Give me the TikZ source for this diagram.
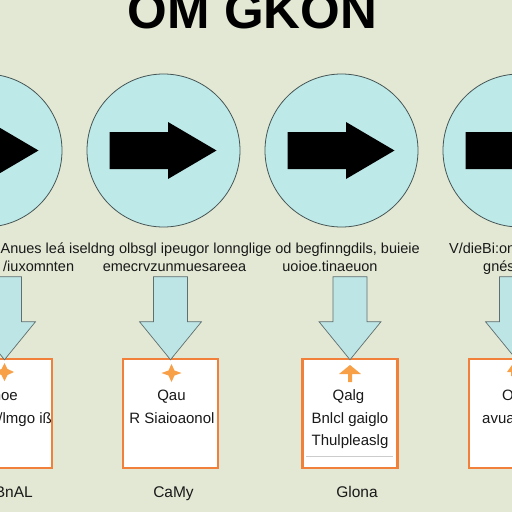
\documentclass[tikz,border=0pt]{standalone}
\usepackage{fontspec}
\setmainfont{Liberation Sans}
\definecolor{bgsage}{RGB}{226,232,211}
\definecolor{circfill}{RGB}{190,233,233}
\definecolor{circline}{RGB}{70,85,85}
\definecolor{downfill}{RGB}{190,229,229}
\definecolor{downline}{RGB}{95,110,110}
\definecolor{boxorange}{RGB}{240,128,58}
\definecolor{markorange}{RGB}{247,160,72}
\definecolor{textdark}{RGB}{25,25,25}

\tikzset{
  stepcircle/.style={circle,draw=circline,line width=0.8pt,fill=circfill,minimum size=153pt,inner sep=0pt},
  cardbox/.style={rectangle,draw=boxorange,line width=2.6pt,fill=white,minimum width=95pt,minimum height=109pt,inner sep=0pt},
  bodytext/.style={font=\fontsize{14.5}{15}\selectfont,text=textdark,inner sep=0pt},
  cardtext/.style={font=\fontsize{15}{16}\selectfont,text=textdark,inner sep=0pt},
  steplabel/.style={font=\fontsize{15.5}{16}\selectfont,text=textdark,inner sep=0pt},
  blockdown/.style={draw=downline,fill=downfill,line width=0.7pt},
}

\begin{document}
\begin{tikzpicture}[x=1pt,y=-1pt]
\fill[bgsage] (0,0) rectangle (512,512);
\useasboundingbox (0,0) rectangle (512,512);

\node[font=\fontsize{51}{51}\selectfont\bfseries,anchor=base,inner sep=0pt] (title) at (252.5,28) {OM GKON};

\foreach \i/\cx/\bx in {1/-14.5/4.5,2/163.5/170.5,3/341.5/350,4/519.5/516.5}{
	\node[stepcircle] (circ\i) at (\cx,150.5) {};
	\begin{scope}[shift={(circ\i.center)}]
	\fill[black] (-54,-18.5) -- (4.5,-18.5) -- (4.5,-28.5) -- (53,0)
		-- (4.5,28.5) -- (4.5,18.5) -- (-54,18.5) -- cycle;
	\end{scope}
	\node[cardbox] (box\i) at (\bx,413.5) {};
	\begin{scope}[shift={(box\i.north)}]
	\draw[blockdown] (-17,-81) -- (17,-81) -- (17,-36) -- (31,-36) -- (0,2)
		-- (-31,-36) -- (-17,-36) -- cycle;
	\end{scope}
}

% markers at the top of the cards
\fill[markorange] (4.5,363) -- (7.5,369) -- (14,372) -- (7.5,375) -- (4.5,381)
	-- (1.5,375) -- (-5,372) -- (1.5,369) -- cycle;
\fill[markorange] (171.5,364) -- (174.5,370.5) -- (181.5,373) -- (174.5,375.5) -- (171.5,382)
	-- (168.5,375.5) -- (161.5,373) -- (168.5,370.5) -- cycle;
\fill[markorange] (350,365) -- (361,374) -- (352,374) -- (352,382) -- (348,382)
	-- (348,374) -- (339,374) -- cycle;
\fill[markorange] (512,365) -- (517,372) -- (513,372) -- (513,376) -- (511,376)
	-- (511,372) -- (507,372) -- cycle;

% text under the circles
\node[bodytext,anchor=base east] (introA) at (420,253) {Anues le\'a iseldng olbsgl ipeugor lonnglige od begfinngdils, buieie};
\node[bodytext,anchor=base west] (introB) at (449,253) {V/dieBi:on};
\node[bodytext,anchor=base west] (subA) at (3,271) {/iuxomnten};
\node[bodytext,anchor=base] (subB) at (174.5,271) {emecrvzunmuesareea};
\node[bodytext,anchor=base] (subC) at (330,271) {uoioe.tinaeuon};
\node[bodytext,anchor=base west] (subD) at (483,271) {gn\'es};

% text in the cards
\node[cardtext,anchor=base east] (cardA1) at (18,400) {Cnoe};
\node[cardtext,anchor=base east] (cardA2) at (52,423) {Vnt /lmgo i\ss};
\node[cardtext,anchor=base] (cardB1) at (171.5,400) {Qau};
\node[cardtext,anchor=base] (cardB2) at (172,423) {R Siaioaonol};
\node[cardtext,anchor=base] (cardC1) at (348.5,400) {Qalg};
\node[cardtext,anchor=base] (cardC2) at (350,423) {Bnlcl gaiglo};
\node[cardtext,anchor=base] (cardC3) at (350,445) {Thulpleaslg};
\draw[gray!40,line width=0.5pt] (306,456) -- (393,456);
\node[cardtext,anchor=base west] (cardD1) at (502,400) {Oa};
\node[cardtext,anchor=base west] (cardD2) at (482,423) {avuaui};

% labels under the cards
\node[steplabel,anchor=base east] (nameA) at (33,497) {BnAL};
\node[steplabel,anchor=base] (nameB) at (173.5,497) {CaMy};
\node[steplabel,anchor=base] (nameC) at (357,497) {Glona};
\end{tikzpicture}
\end{document}
